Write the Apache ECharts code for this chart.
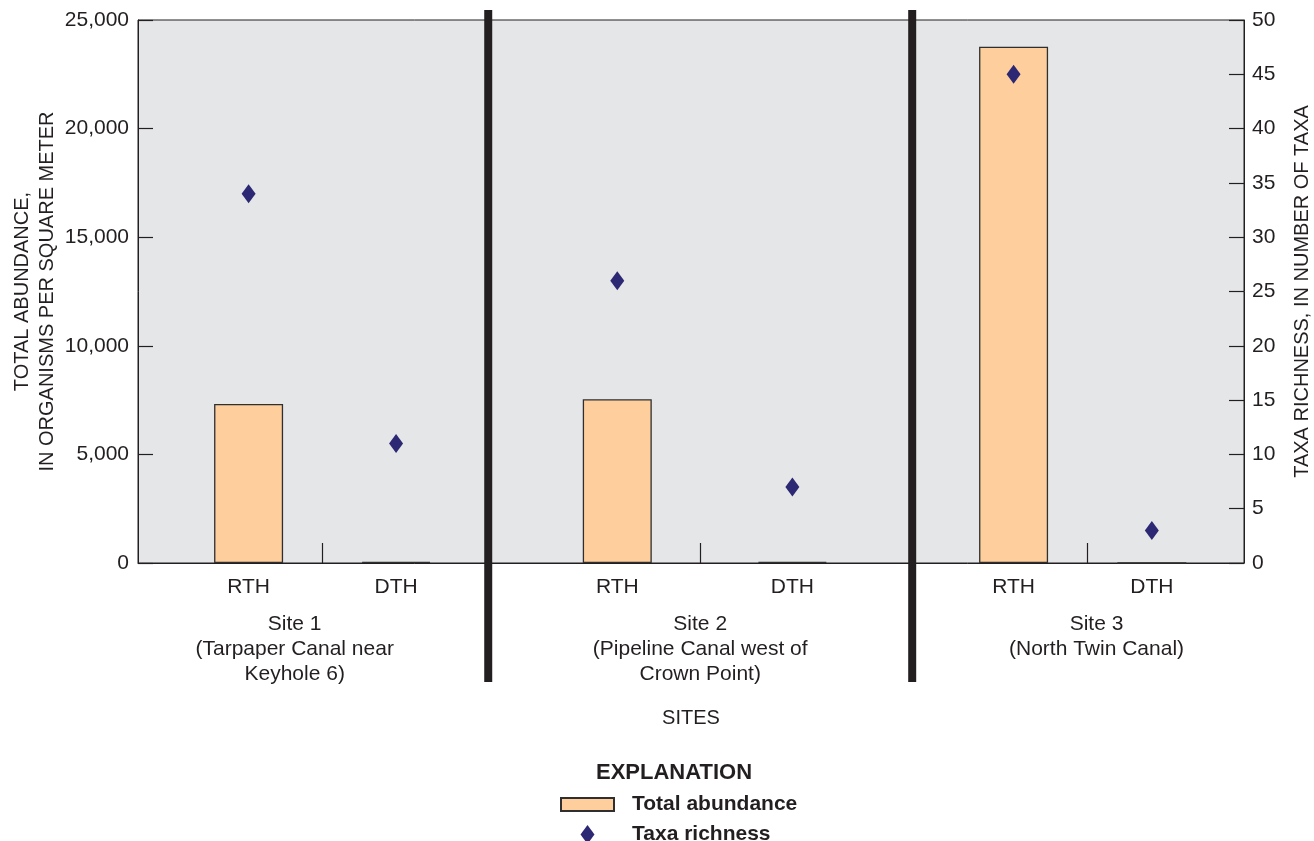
<!DOCTYPE html>
<html><head><meta charset="utf-8">
<script src="https://cdn.jsdelivr.net/npm/echarts@6/dist/echarts.min.js"></script>
<style>html,body{margin:0;padding:0;background:#fff}#c{width:1314px;height:841px}</style>
</head><body><div id="c"></div>
<script>
// ---- data ----
const categories = ['RTH', 'DTH', 'RTH', 'DTH', 'RTH', 'DTH'];
const abundance = [7320, 50, 7540, 50, 23770, 0];
const richness = [34, 11, 26, 7, 45, 3];
const siteNames = [
  'Site 1\n(Tarpaper Canal near\nKeyhole 6)',
  'Site 2\n(Pipeline Canal west of\nCrown Point)',
  'Site 3\n(North Twin Canal)'
];

// ---- layout: fine category slots along the x axis ----
const SLOT_COUNT = 121;
const catSlot = [12, 28, 52, 71, 95, 110];
const midTickSlot = [20, 61, 103];
const siteLabelSlot = [17, 61, 104];
const separatorSlot = [38, 84];

const slots = Array.from({length: SLOT_COUNT}, (_, i) => 's' + i);
const labelAt = {}; catSlot.forEach((s, i) => labelAt[s] = categories[i]);
const siteAt = {}; siteLabelSlot.forEach((s, i) => siteAt[s] = siteNames[i]);
const barData = catSlot.map((s, i) => [slots[s], abundance[i]]);
const scatterData = catSlot.map((s, i) => [slots[s], richness[i]]);

const INK = '#231F20';
const FONT = '"Liberation Sans", Arial, Helvetica, sans-serif';
const DIAMOND = 'path://M7,0L14,9.5L7,19L0,9.5Z';
const SWATCH = 'path://M0,0H53V13H0Z';

const chart = echarts.init(document.getElementById('c'), null, {renderer: 'canvas'});
const option = {
  animation: false,
  backgroundColor: '#ffffff',
  textStyle: {fontFamily: FONT, color: INK},
  title: {
    text: 'EXPLANATION', left: 596, top: 762, padding: 0,
    textStyle: {fontFamily: FONT, fontSize: 22, fontWeight: 'bold', color: INK}
  },
  legend: {
    orient: 'vertical', left: 560, top: 794, height: 120, padding: 0,
    itemWidth: 53, itemHeight: 19, itemGap: 9,
    symbolKeepAspect: true,
    textStyle: {fontFamily: FONT, fontSize: 21, fontWeight: 'bold', color: INK, padding: [0, 0, 0, 13]},
    data: [{name: 'Total abundance', icon: SWATCH}, {name: 'Taxa richness', icon: DIAMOND}]
  },
  grid: {
    left: 138, right: 70, top: 20, bottom: 278,
    outerBoundsMode: 'none', containLabel: false,
    show: true, backgroundColor: '#E5E6E8', borderColor: INK, borderWidth: 1
  },
  xAxis: [{
    type: 'category', data: slots, boundaryGap: false, position: 'bottom',
    axisLine: {show: true, lineStyle: {color: INK, width: 1}},
    axisTick: {show: true, inside: true, length: 20, lineStyle: {color: INK, width: 1.2},
      interval: (i) => midTickSlot.includes(i)},
    axisLabel: {show: true, interval: (i) => labelAt[i] !== undefined,
      formatter: (v, i) => labelAt[i] || '', margin: 14,
      fontFamily: FONT, fontSize: 21, color: INK},
    splitLine: {show: false},
    name: 'SITES', nameLocation: 'middle', nameGap: 145, nameMoveOverlap: false,
    nameTextStyle: {fontFamily: FONT, fontSize: 20, color: INK}
  }, {
    type: 'category', data: slots, boundaryGap: false, position: 'bottom', offset: 0,
    axisLine: {show: false}, axisTick: {show: false}, splitLine: {show: false},
    axisLabel: {show: true, interval: (i) => siteAt[i] !== undefined,
      formatter: (v, i) => siteAt[i] || '', margin: 49,
      fontFamily: FONT, fontSize: 21, lineHeight: 25, color: INK, align: 'center'}
  }],
  yAxis: [{
    type: 'value', min: 0, max: 25000, interval: 5000, position: 'left',
    axisLine: {show: true, lineStyle: {color: INK, width: 1}},
    axisTick: {show: true, inside: true, length: 15, lineStyle: {color: INK, width: 1.2}},
    axisLabel: {margin: 9, fontFamily: FONT, fontSize: 21, color: INK},
    splitLine: {show: false},
    name: 'TOTAL ABUNDANCE,\nIN ORGANISMS PER SQUARE METER',
    nameLocation: 'middle', nameRotate: 90, nameGap: 78, nameMoveOverlap: false,
    nameTextStyle: {fontFamily: FONT, fontSize: 20, lineHeight: 25, color: INK, align: 'center'}
  }, {
    type: 'value', min: 0, max: 50, interval: 5, position: 'right',
    axisLine: {show: true, lineStyle: {color: INK, width: 1}},
    axisTick: {show: true, inside: true, length: 15, lineStyle: {color: INK, width: 1.2}},
    axisLabel: {margin: 8, fontFamily: FONT, fontSize: 21, color: INK},
    splitLine: {show: false},
    name: 'TAXA RICHNESS, IN NUMBER OF TAXA',
    nameLocation: 'middle', nameRotate: 90, nameGap: 48, nameMoveOverlap: false,
    nameTextStyle: {fontFamily: FONT, fontSize: 20, color: INK}
  }],
  series: [{
    name: 'Total abundance', type: 'bar', xAxisIndex: 0, yAxisIndex: 0,
    barWidth: 69, data: barData,
    itemStyle: {color: '#FECF9D', borderColor: '#2F2F2F', borderWidth: 1.3},
    z: 3
  }, {
    name: 'Taxa richness', type: 'scatter', xAxisIndex: 0, yAxisIndex: 1,
    symbol: DIAMOND, symbolSize: [14, 19], data: scatterData,
    itemStyle: {color: '#2D2873', opacity: 1},
    z: 4
  }]
};
chart.setOption(option);

// thick site separators, positioned through the x axis scale
const sepGraphics = separatorSlot.map((s) => {
  const x = chart.convertToPixel({xAxisIndex: 0}, slots[s]);
  return {type: 'rect', shape: {x: x - 4, y: 10, width: 8, height: 672},
    style: {fill: INK}, z: 100};
});
chart.setOption({graphic: sepGraphics});
</script>
</body></html>
